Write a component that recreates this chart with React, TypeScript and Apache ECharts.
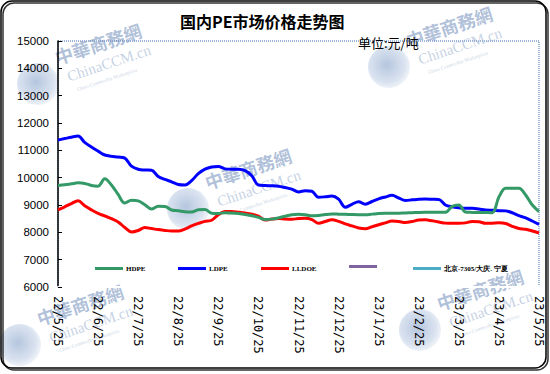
import React, { useEffect, useRef } from "react";
import * as echarts from "echarts";

const categories = [
  "22/5/25","22/5/30","22/6/4","22/6/9","22/6/14","22/6/19",
  "22/6/25","22/6/30","22/7/5","22/7/10","22/7/15","22/7/20",
  "22/7/25","22/7/30","22/8/4","22/8/9","22/8/14","22/8/19",
  "22/8/25","22/8/30","22/9/4","22/9/9","22/9/14","22/9/19",
  "22/9/25","22/9/30","22/10/5","22/10/10","22/10/15","22/10/20",
  "22/10/25","22/10/30","22/11/4","22/11/9","22/11/14","22/11/19",
  "22/11/25","22/11/30","22/12/5","22/12/10","22/12/15","22/12/20",
  "22/12/25","22/12/30","23/1/4","23/1/9","23/1/14","23/1/19",
  "23/1/25","23/1/30","23/2/4","23/2/9","23/2/14","23/2/19",
  "23/2/25","23/2/28","23/3/5","23/3/10","23/3/15","23/3/20",
  "23/3/25","23/3/30","23/4/4","23/4/9","23/4/14","23/4/19",
  "23/4/25","23/4/30","23/5/5","23/5/10","23/5/15","23/5/20",
  "23/5/25",
];

const hdpe = [
  9710, 9740, 9775, 9810, 9790, 9716, 9690, 9960, 9734, 9385, 9070, 9172,
  9150, 9012, 8851, 8950, 8948, 8815, 8790, 8753, 8744, 8823, 8836, 8700,
  8690, 8715, 8704, 8685, 8655, 8607, 8548, 8466, 8483, 8530, 8591, 8640,
  8660, 8647, 8606, 8620, 8650, 8669, 8665, 8659, 8650, 8643, 8641, 8666,
  8690, 8695, 8695, 8698, 8708, 8717, 8728, 8732, 8732, 8732, 8732, 8950,
  9000, 8740, 8730, 8727, 8724, 8721, 9290, 9610, 9610, 9610, 9366, 8999,
  8760,
];

const ldpe = [
  11380, 11430, 11480, 11520, 11290, 11120, 10970, 10830, 10785, 10755, 10715, 10420,
  10310, 10280, 10270, 10045, 9934, 9848, 9750, 9731, 9890, 10146, 10310, 10393,
  10411, 10322, 10305, 10305, 10255, 10070, 9730, 9710, 9705, 9690, 9640, 9580,
  9480, 9523, 9504, 9285, 9300, 9325, 9212, 8917, 9027, 9119, 9030, 9128,
  9224, 9293, 9353, 9256, 9166, 9188, 9210, 9215, 9210, 9205, 9002, 8936,
  8900, 8878, 8878, 8851, 8814, 8804, 8794, 8785, 8717, 8610, 8528, 8414,
  8290,
];

const lldpe = [
  8820, 8934, 9050, 9160, 8972, 8822, 8692, 8600, 8500, 8381, 8176, 8013,
  8066, 8175, 8137, 8100, 8069, 8048, 8048, 8118, 8233, 8326, 8402, 8442,
  8646, 8763, 8761, 8737, 8707, 8664, 8590, 8452, 8487, 8506, 8488, 8481,
  8503, 8512, 8468, 8332, 8397, 8461, 8402, 8309, 8235, 8161, 8132, 8205,
  8278, 8347, 8413, 8398, 8361, 8396, 8451, 8456, 8421, 8380, 8337, 8329,
  8329, 8346, 8400, 8391, 8329, 8335, 8347, 8322, 8219, 8139, 8115, 8051,
  7977,
];

const purpleSeries: number[] = [];
const cyanSeries: number[] = [];

const seriesNames = ["HDPE", "LDPE", "LLDOE", "系列4", "北京-7305/大庆. 宁夏"];
const seriesColors = ["#339966", "#0000ff", "#ff0000", "#8064a2", "#4bacc6"];

const yMin = 6000;
const yMax = 15000;
const yStep = 1000;

function watermark(x: number, y: number, s: number) {
  return {
    type: "group",
    x,
    y,
    scaleX: s,
    scaleY: s,
    silent: true,
    z: -10,
    children: [
      {
        type: "circle",
        shape: { cx: 0, cy: 0, r: 21 },
        style: {
          fill: {
            type: "radial",
            x: 0.45,
            y: 0.45,
            r: 0.6,
            colorStops: [
              { offset: 0, color: "rgba(120,150,195,0.55)" },
              { offset: 0.7, color: "rgba(170,190,220,0.45)" },
              { offset: 1, color: "rgba(225,232,243,0.35)" },
            ],
          },
        },
      },
      {
        type: "text",
        x: 20,
        y: -18,
        rotation: 0.32,
        style: {
          text: "中華商務網",
          fill: "rgba(110,140,185,0.55)",
          font: "bold 18px 'Noto Sans CJK TC'",
          textVerticalAlign: "bottom",
        },
      },
      {
        type: "text",
        x: 32,
        y: 0,
        rotation: 0.32,
        style: {
          text: "ChinaCCM.cn",
          fill: "rgba(140,165,200,0.5)",
          font: "15px 'Liberation Serif'",
          textVerticalAlign: "bottom",
        },
      },
      {
        type: "text",
        x: 40,
        y: 8,
        rotation: 0.32,
        style: {
          text: "China Commodity Marketplace",
          fill: "rgba(140,165,200,0.5)",
          font: "5px 'Liberation Serif'",
          textVerticalAlign: "bottom",
        },
      },
    ],
  };
}

export default function App() {
  const ref = useRef<HTMLDivElement>(null);

  useEffect(() => {
    if (!ref.current) return;
    const chart = echarts.init(ref.current, null, { renderer: "svg" });

    const legendLefts = [95, 178, 261, 349, 413];
    const legends = seriesNames.map((n, i) => ({
      data: [n],
      left: legendLefts[i],
      top: 265,
      orient: "horizontal",
      icon: "rect",
      itemWidth: 28,
      itemHeight: 3,
      padding: 0,
      formatter: i === 3 ? () => "" : undefined,
      textStyle: {
        fontSize: 7,
        fontWeight: "bold",
        fontFamily: "'Liberation Serif', serif",
        color: "#000",
        padding: [0, 0, 0, -2],
      },
      selectedMode: false,
    }));

    const dataArrays = [hdpe, ldpe, lldpe, purpleSeries, cyanSeries];

    chart.setOption({
      animation: false,
      backgroundColor: "#fff",
      title: {
        text: "国内PE市场价格走势图",
        left: 180,
        top: 13,
        padding: 0,
        textStyle: {
          fontSize: 16,
          fontWeight: "bold",
          fontFamily: "'Noto Sans CJK SC'",
          color: "#000",
        },
      },
      legend: legends,
      grid: {
        left: 58,
        right: 11,
        top: 41,
        bottom: 87,
        show: true,
        borderColor: "#3d6db5",
        borderWidth: 1,
        borderType: "dotted",
        backgroundColor: "transparent",
      },
      xAxis: {
        type: "category",
        data: categories,
        boundaryGap: false,
        axisLine: { show: true, lineStyle: { color: "#fff", width: 2 } },
        axisTick: { show: false },
        axisLabel: {
          interval: 5,
          rotate: -90,
          margin: 9,
          fontSize: 12,
          fontFamily: "'DejaVu Sans Mono', monospace",
          color: "#000",
        },
        splitLine: { show: false },
      },
      yAxis: {
        type: "value",
        min: yMin,
        max: yMax,
        interval: yStep,
        axisLine: { show: true, lineStyle: { color: "#000", width: 1.5 } },
        axisTick: { show: true, inside: true, length: 4, lineStyle: { color: "#000" } },
        axisLabel: {
          margin: 9,
          fontSize: 11.5,
          fontFamily: "'Liberation Sans', Arial, sans-serif",
          color: "#000",
          formatter: (v: number) => String(v),
        },
        splitLine: { show: false },
      },
      series: seriesNames.map((n, i) => ({
        name: n,
        type: "line",
        data: dataArrays[i],
        smooth: 0.35,
        showSymbol: false,
        symbol: "none",
        color: seriesColors[i],
        lineStyle: { width: 3, color: seriesColors[i] },
        z: 5 - i,
      })),
      graphic: [
        watermark(38, 84, 1),
        watermark(389, 67, 1),
        watermark(188, 209, 1),
        watermark(20, 345, 1),
        watermark(420, 330, 1),
        {
          type: "text",
          x: 358,
          y: 36,
          style: {
            text: "单位:元/吨",
            fill: "#000",
            font: "13px 'Noto Sans CJK SC'",
          },
          z: 10,
        },
        {
          type: "rect",
          shape: { x: 1, y: 1, width: 545, height: 367, r: 11 },
          style: {
            fill: "none",
            stroke: "#000",
            lineWidth: 1.5,
            shadowBlur: 0,
            shadowOffsetX: 2,
            shadowOffsetY: 2,
            shadowColor: "#333",
          },
          silent: true,
          z: 20,
        },
      ],
    });

    return () => chart.dispose();
  }, []);

  return (
    <div
      ref={ref}
      style={{ position: "fixed", left: 0, top: 0, width: 550, height: 374 }}
    />
  );
}
